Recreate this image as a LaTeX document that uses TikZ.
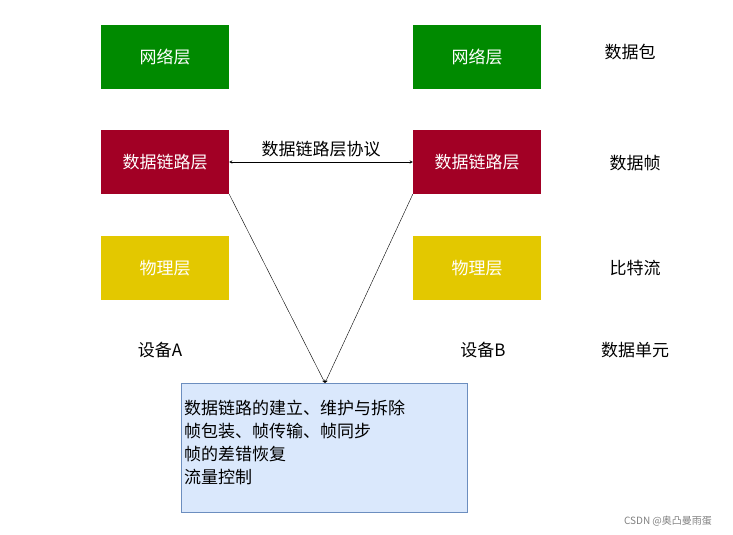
\documentclass[tikz,border=0pt]{standalone}
\usepackage{fontspec}
\newfontfamily\cjk{Noto Sans CJK SC}
\begin{document}
\begin{tikzpicture}[x=1pt,y=-1pt,
 lay/.style={minimum width=128pt,minimum height=64pt,inner sep=0pt,text=white,font=\cjk\fontsize{17}{20}\selectfont},
 lbl/.style={font=\cjk\fontsize{17}{20}\selectfont}]
\useasboundingbox (0,0) rectangle (733,535);
\node[lay,fill=green!50!black,fill={rgb,255:red,0;green,138;blue,0}] (nA) at (165,57) {网络层};
\node[lay,fill={rgb,255:red,0;green,138;blue,0}] (nB) at (477,57) {网络层};
\node[lay,fill={rgb,255:red,162;green,0;blue,37}] (dA) at (165,162) {数据链路层};
\node[lay,fill={rgb,255:red,162;green,0;blue,37}] (dB) at (477,162) {数据链路层};
\node[lay,fill={rgb,255:red,227;green,200;blue,0}] (pA) at (165,268) {物理层};
\node[lay,fill={rgb,255:red,227;green,200;blue,0}] (pB) at (477,268) {物理层};
\node[lbl] (a) at (160,350) {设备A};
\node[lbl] (b) at (483,350) {设备B};
\node[lbl] (l1) at (630,52) {数据包};
\node[lbl] (l2) at (635,163) {数据帧};
\node[lbl] (l3) at (635,268) {比特流};
\node[lbl] (l4) at (635,350) {数据单元};
\node[draw={rgb,255:red,108;green,142;blue,191},fill={rgb,255:red,218;green,232;blue,252},
 minimum width=286pt,minimum height=129pt,anchor=north west] (box) at (181,383) {};
\node[lbl,anchor=north west,align=left,inner sep=0pt,font=\cjk\fontsize{17}{23}\selectfont] (t) at (184,400) {数据链路的建立、维护与拆除\\帧包装、帧传输、帧同步\\帧的差错恢复\\流量控制};
\draw[<->,>=stealth] (dA.east) -- node[above,lbl,yshift=1pt] {数据链路层协议} (dB.east-|dB.west);
\coordinate (m) at (325,383);
\draw[->,>=stealth] (dA.south east) -- (m);
\draw[->,>=stealth] (dB.south west) -- (m);
\node[text=gray,font=\cjk\fontsize{10}{12}\selectfont] (w) at (668,521) {CSDN @奥凸曼雨蛋};
\end{tikzpicture}
\end{document}
